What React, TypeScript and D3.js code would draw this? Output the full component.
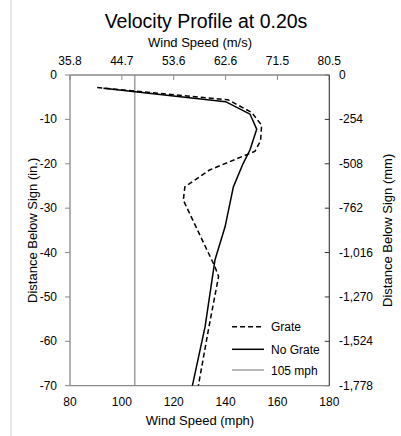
import React from "react";
import * as d3 from "d3";

const W = 401;
const H = 436;

// Data (mph vs depth in inches)
const grateSpeed = [90.5, 141, 150, 153.9, 153.5, 151.3, 133.8, 124.3, 123.7, 135.9, 137.3, 133.6, 129.5];
const grateDepth = [-2.8, -5.6, -8.4, -11.3, -14.8, -17.2, -21.4, -25.2, -28.2, -43.2, -45.4, -56.7, -70];
const noGrateSpeed = [92.9, 140, 149.4, 152, 149.4, 146.8, 143, 139.8, 135.9, 132.1, 127.2];
const noGrateDepth = [-3.0, -6.0, -8.8, -12.2, -16.9, -19.9, -25.2, -34.2, -41.7, -56.7, -70];
const refSpeed = 105;

const mphTicks = [80, 100, 120, 140, 160, 180];
const depthTicks = [0, -10, -20, -30, -40, -50, -60, -70];
const MPH_TO_MS = 0.44704;
const IN_TO_MM = 25.4;

const FONT = "'Liberation Sans', Arial, sans-serif";

export default function App() {
  const left = 70, right = 329.3, top = 75, bottom = 385.7;
  const x = d3.scaleLinear().domain([80, 180]).range([left, right]);
  const y = d3.scaleLinear().domain([0, -70]).range([top, bottom]);

  const line = d3
    .line<[number, number]>()
    .x((d) => x(d[0]))
    .y((d) => y(d[1]));

  const grate = grateSpeed.map((s, i) => [s, grateDepth[i]] as [number, number]);
  const noGrate = noGrateSpeed.map((s, i) => [s, noGrateDepth[i]] as [number, number]);

  const fmtMm = (v: number) => {
    const r = Math.round(v * IN_TO_MM);
    const s = Math.abs(r).toString().replace(/\B(?=(\d{3})+(?!\d))/g, ",");
    return (r < 0 ? "-" : "") + s;
  };

  const axisGray = "#898989";

  return (
    <svg width={W} height={H} style={{ position: "absolute", left: 0, top: 0 }} fontFamily={FONT}>
      <rect x={0} y={0} width={W} height={H} fill="#fff" />
      <line x1={11} x2={11} y1={0} y2={H} stroke="#d0d0d0" strokeWidth={1} />

      {/* Title */}
      <text x={206} y={28} textAnchor="middle" fontSize={19.5} fill="#000">
        Velocity Profile at 0.20s
      </text>
      <text x={200} y={47} textAnchor="middle" fontSize={13} fill="#000">
        Wind Speed (m/s)
      </text>

      {/* Top axis labels (m/s) */}
      {mphTicks.map((t) => (
        <text key={"tt" + t} x={x(t)} y={65} textAnchor="middle" fontSize={12} fill="#000">
          {(t * MPH_TO_MS).toFixed(1)}
        </text>
      ))}
      {/* Top ticks inward */}
      {mphTicks.map((t) => (
        <line key={"tk" + t} x1={x(t)} x2={x(t)} y1={top} y2={top + 5} stroke={axisGray} strokeWidth={1} />
      ))}

      {/* Bottom axis labels */}
      {mphTicks.map((t) => (
        <text key={"bt" + t} x={x(t)} y={406} textAnchor="middle" fontSize={12} fill="#000">
          {t}
        </text>
      ))}
      <text x={200} y={425} textAnchor="middle" fontSize={13} fill="#000">
        Wind Speed (mph)
      </text>

      {/* Left axis */}
      {depthTicks.map((t) => (
        <g key={"l" + t}>
          <line x1={left - 5} x2={left} y1={y(t)} y2={y(t)} stroke={axisGray} strokeWidth={1} />
          <text x={57} y={y(t) + 4} textAnchor="end" fontSize={12} fill="#000">
            {t === 0 ? "0" : "-" + Math.abs(t)}
          </text>
        </g>
      ))}
      <text
        transform={`translate(32,${(top + bottom) / 2}) rotate(-90)`}
        textAnchor="middle"
        fontSize={13}
        fill="#000"
        dy="0.35em"
      >
        Distance Below Sign (in.)
      </text>

      {/* Right axis */}
      {depthTicks.map((t) => (
        <g key={"r" + t}>
          <line x1={right - 4.5} x2={right} y1={y(t)} y2={y(t)} stroke="#333" strokeWidth={1} />
          <text x={339} y={y(t) + 4} textAnchor="start" fontSize={12} fill="#000">
            {fmtMm(t)}
          </text>
        </g>
      ))}
      <text
        transform={`translate(387,${(top + bottom) / 2}) rotate(-90)`}
        textAnchor="middle"
        fontSize={13}
        fill="#000"
        dy="0.35em"
      >
        Distance Below Sign (mm)
      </text>

      {/* Plot frame */}
      <line x1={left} x2={right} y1={top} y2={top} stroke={axisGray} strokeWidth={1.3} />
      <line x1={left} x2={right} y1={bottom} y2={bottom} stroke={axisGray} strokeWidth={1.3} />
      <line x1={left} x2={left} y1={top} y2={bottom} stroke={axisGray} strokeWidth={1.3} />
      <line x1={right} x2={right} y1={top} y2={bottom} stroke="#333" strokeWidth={1.1} />

      {/* 105 mph reference */}
      <line x1={x(refSpeed)} x2={x(refSpeed)} y1={top} y2={bottom} stroke={axisGray} strokeWidth={1.2} />

      {/* Series */}
      <path d={line(noGrate) || ""} fill="none" stroke="#000" strokeWidth={1.5} strokeLinejoin="round" />
      <path d={line(grate) || ""} fill="none" stroke="#000" strokeWidth={1.5} strokeDasharray="5,3" strokeLinejoin="round" />

      {/* Legend */}
      <g fontSize={12} fill="#000">
        <line x1={232} x2={264} y1={326.7} y2={326.7} stroke="#000" strokeWidth={1.5} strokeDasharray="5,3" />
        <text x={271} y={331}>Grate</text>
        <line x1={232} x2={264} y1={349.3} y2={349.3} stroke="#000" strokeWidth={1.5} />
        <text x={271} y={353.5}>No Grate</text>
        <line x1={232} x2={264} y1={370} y2={370} stroke={axisGray} strokeWidth={1.2} />
        <text x={271} y={374.5}>105 mph</text>
      </g>
    </svg>
  );
}
